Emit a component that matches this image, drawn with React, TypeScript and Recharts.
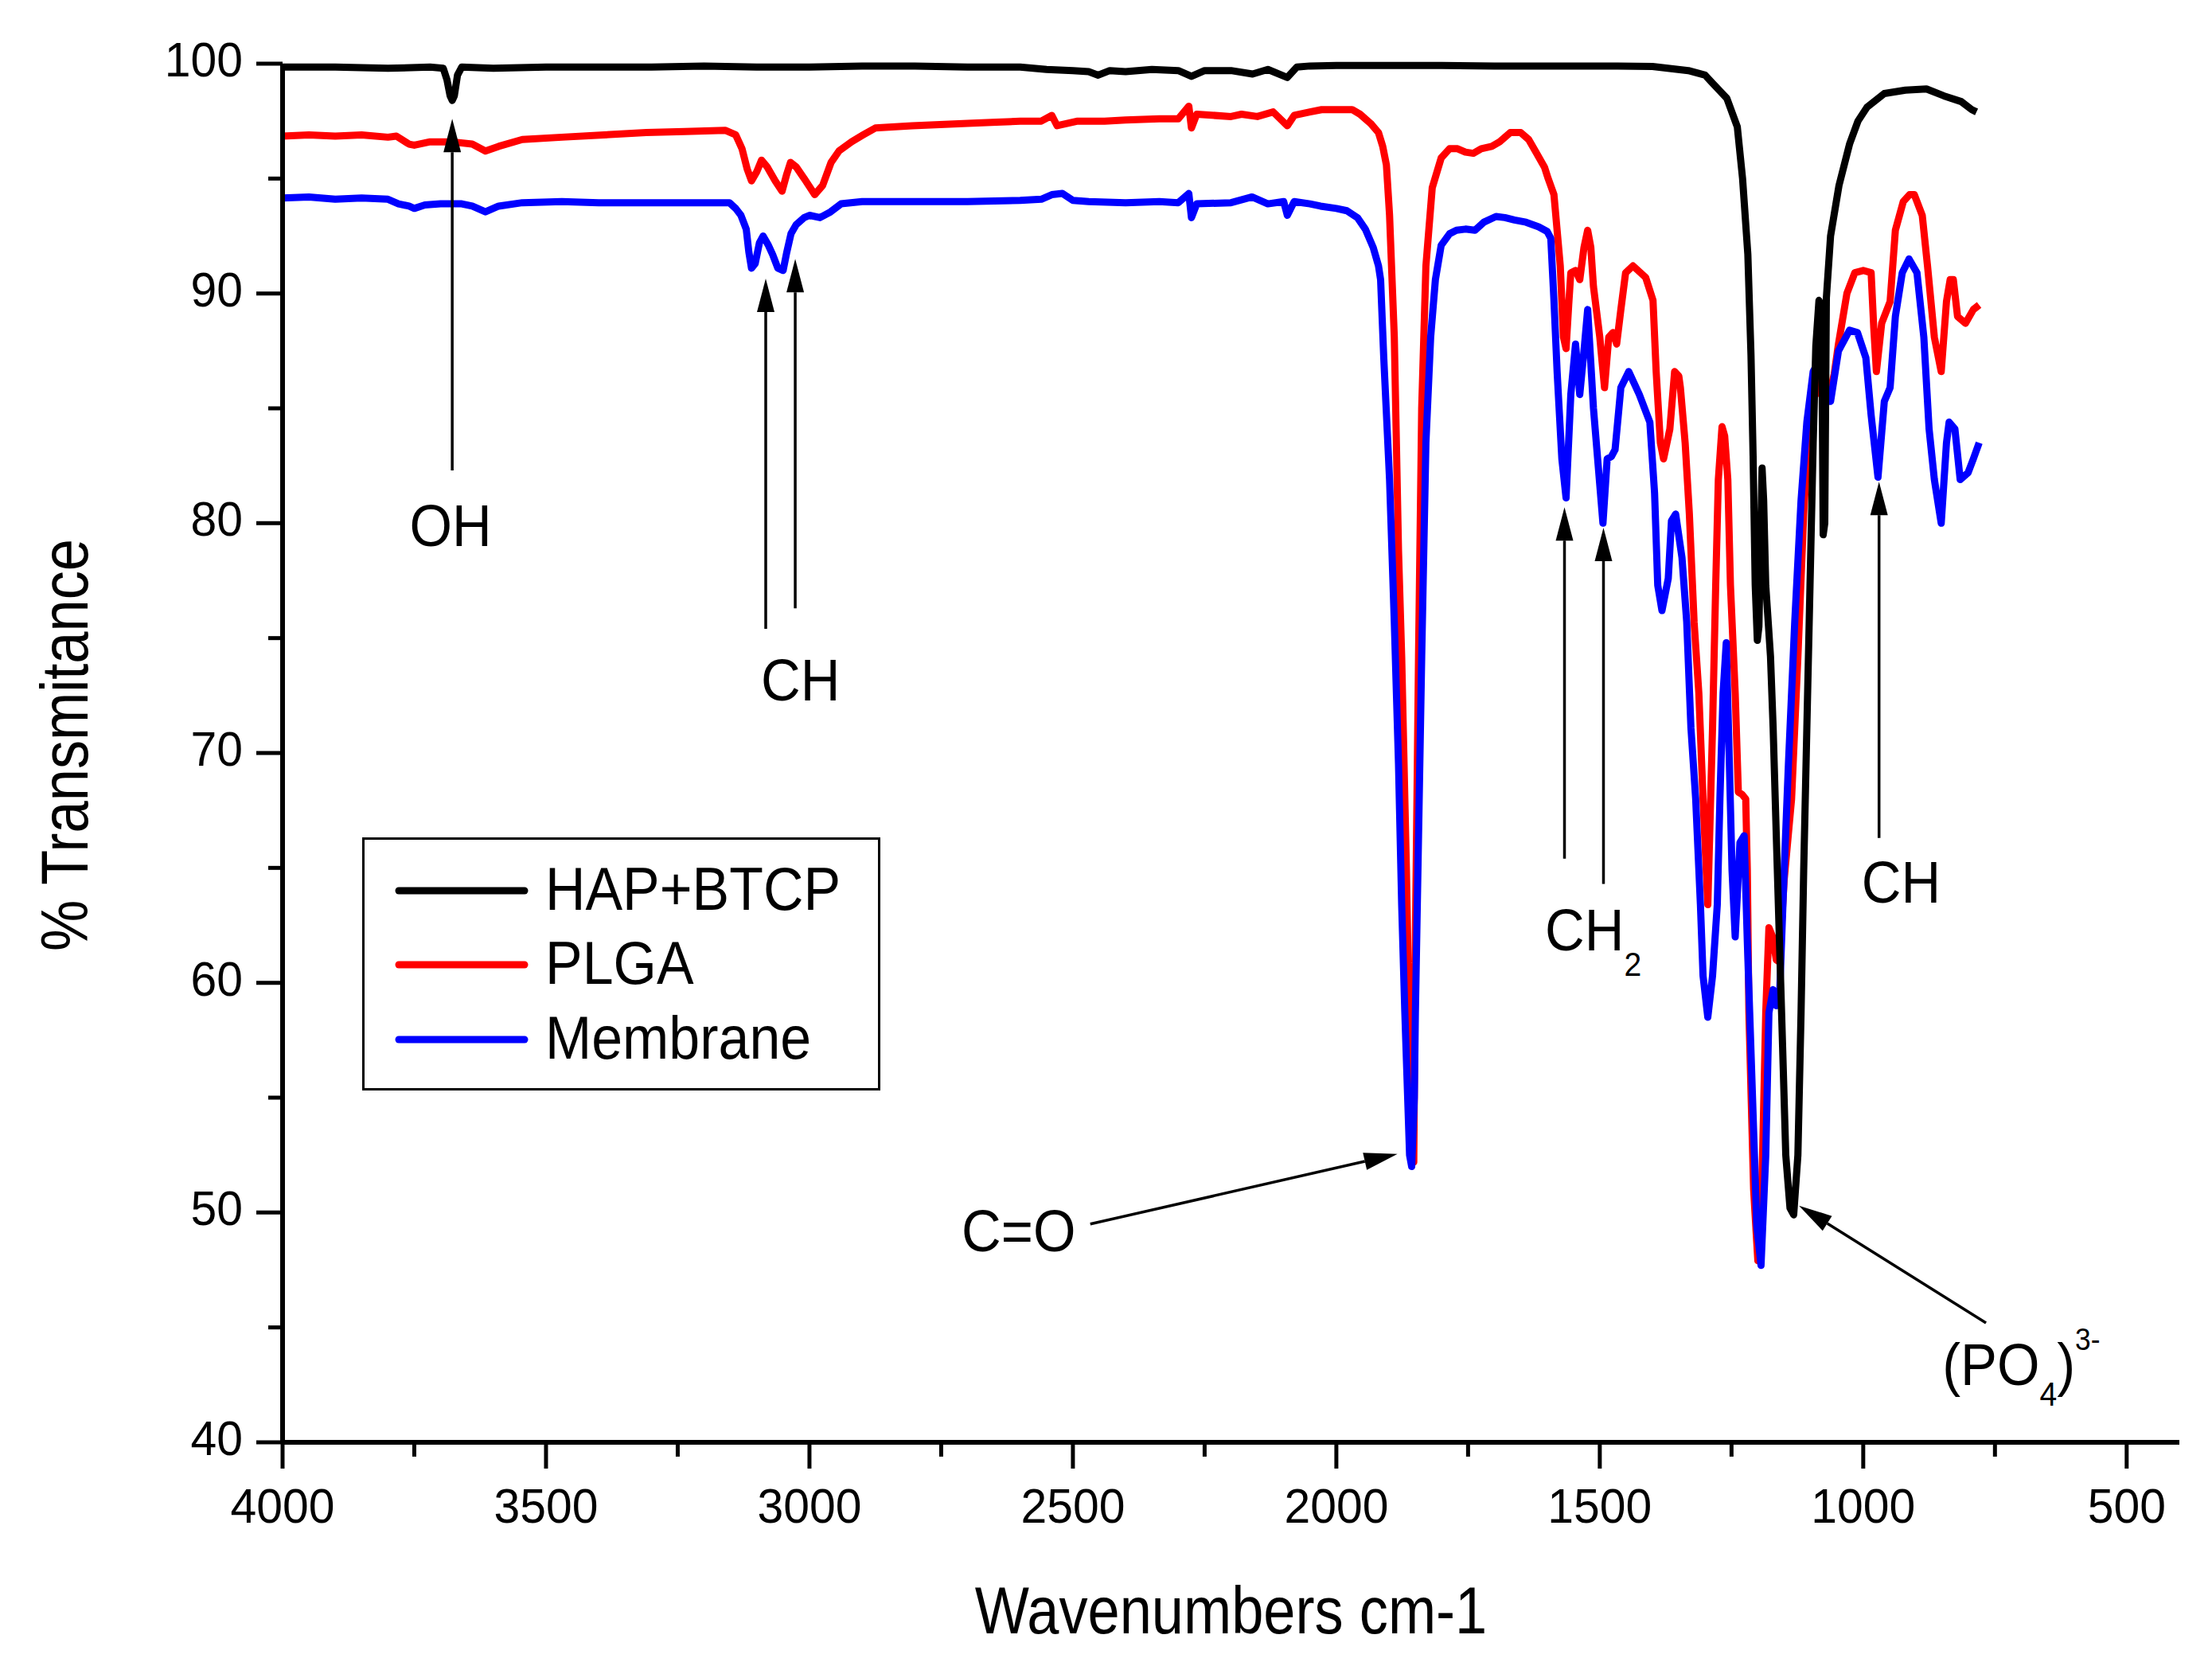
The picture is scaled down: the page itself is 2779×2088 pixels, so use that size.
import React from "react";
import { LineChart, Line, XAxis, YAxis, Legend, ReferenceLine, ReferenceDot, Label } from "recharts";

const FONT = '"Liberation Sans", Arial, Helvetica, sans-serif';

// [wavenumber cm-1, % transmittance]
const hapPoints: [number, number][] = [
  [4000, 99.85], [3900, 99.85], [3800, 99.8], [3720, 99.85], [3695, 99.8], [3688, 99.3], [3682, 98.6],
  [3678, 98.4], [3674, 98.6], [3668, 99.5], [3660, 99.85], [3600, 99.8], [3500, 99.85], [3400, 99.85],
  [3300, 99.85], [3200, 99.9], [3100, 99.85], [3000, 99.85], [2900, 99.9], [2800, 99.9], [2700, 99.85],
  [2600, 99.85], [2550, 99.75], [2500, 99.7], [2470, 99.65], [2452, 99.5], [2430, 99.7], [2400, 99.65],
  [2350, 99.75], [2300, 99.7], [2275, 99.45], [2250, 99.7], [2200, 99.7], [2159, 99.55], [2130, 99.75],
  [2093, 99.4], [2075, 99.85], [2050, 99.9], [2000, 99.92], [1900, 99.92], [1800, 99.92], [1700, 99.9],
  [1600, 99.9], [1500, 99.9], [1400, 99.88], [1332, 99.7], [1300, 99.5], [1286, 99.15], [1259, 98.5],
  [1239, 97.25], [1229, 95.0], [1219, 91.7], [1213, 87.3], [1209, 82.9], [1205, 77.3], [1201, 74.9],
  [1198, 75.5], [1192, 82.4], [1189, 81.0], [1185, 77.3], [1176, 74.2], [1171, 71.1], [1165, 66.4],
  [1159, 61.8], [1153, 57.2], [1147, 52.5], [1139, 50.2], [1132, 49.9], [1124, 52.5], [1118, 58.7],
  [1113, 64.9], [1107, 71.1], [1101, 77.3], [1095, 83.5], [1090, 87.7], [1084, 89.7], [1079, 89.4],
  [1076, 79.5], [1073, 80.0], [1070, 89.8], [1062, 92.5], [1046, 94.7], [1026, 96.5], [1010, 97.5],
  [993, 98.1], [960, 98.7], [920, 98.85], [880, 98.9], [847, 98.6], [814, 98.35], [794, 98.0], [785, 97.9],
];

const plgaPoints: [number, number][] = [
  [4000, 96.85], [3950, 96.9], [3900, 96.85], [3850, 96.9], [3800, 96.8], [3784, 96.85], [3760, 96.5],
  [3750, 96.45], [3720, 96.6], [3680, 96.6], [3640, 96.5], [3615, 96.2], [3590, 96.4], [3545, 96.7],
  [3470, 96.8], [3390, 96.9], [3310, 97.0], [3237, 97.05], [3160, 97.1], [3140, 96.9], [3128, 96.3],
  [3118, 95.4], [3110, 94.9], [3100, 95.3], [3091, 95.8], [3080, 95.5], [3065, 94.9], [3052, 94.45],
  [3043, 95.2], [3036, 95.7], [3025, 95.5], [3010, 95.0], [2990, 94.3], [2975, 94.7], [2959, 95.7],
  [2944, 96.2], [2920, 96.6], [2898, 96.9], [2875, 97.2], [2805, 97.3], [2700, 97.4], [2645, 97.45],
  [2600, 97.5], [2560, 97.5], [2540, 97.75], [2530, 97.3], [2491, 97.5], [2440, 97.5], [2400, 97.55],
  [2336, 97.6], [2300, 97.6], [2280, 98.15], [2275, 97.2], [2265, 97.8], [2200, 97.7], [2180, 97.8],
  [2150, 97.7], [2120, 97.9], [2093, 97.3], [2080, 97.75], [2050, 97.9], [2028, 98.0], [1970, 98.0],
  [1955, 97.8], [1935, 97.4], [1920, 97.0], [1912, 96.4], [1905, 95.6], [1899, 93.4], [1890, 88.1],
  [1882, 78.8], [1876, 74.2], [1867, 64.9], [1861, 57.2], [1856, 52.6], [1853, 52.2], [1850, 61.8],
  [1844, 74.2], [1838, 85.0], [1830, 91.2], [1818, 94.6], [1801, 95.9], [1785, 96.3], [1770, 96.3],
  [1755, 96.15], [1740, 96.1], [1725, 96.3], [1705, 96.4], [1690, 96.6], [1670, 97.0], [1650, 97.0],
  [1635, 96.7], [1620, 96.1], [1605, 95.5], [1598, 95.0], [1587, 94.3], [1575, 91.2], [1569, 88.1],
  [1564, 87.6], [1559, 89.5], [1555, 90.9], [1546, 91.0], [1538, 90.6], [1530, 92.0], [1523, 92.75],
  [1517, 92.0], [1512, 90.3], [1500, 88.1], [1491, 85.9], [1483, 88.1], [1475, 88.3], [1468, 87.8],
  [1460, 89.3], [1451, 90.9], [1437, 91.2], [1413, 90.7], [1399, 89.7], [1393, 86.6], [1385, 83.5],
  [1379, 82.8], [1367, 84.1], [1358, 86.6], [1350, 86.4], [1347, 85.9], [1338, 83.5], [1330, 80.4],
  [1321, 75.7], [1312, 72.6], [1304, 68.0], [1295, 63.4], [1286, 71.1], [1280, 77.3], [1275, 81.9],
  [1268, 84.2], [1263, 83.8], [1257, 81.9], [1252, 77.3], [1243, 72.6], [1237, 68.3], [1230, 68.2],
  [1223, 68.0], [1220, 64.9], [1217, 58.7], [1208, 51.0], [1200, 47.9], [1196, 48.5], [1191, 52.5],
  [1185, 58.7], [1179, 62.4], [1172, 62.0], [1165, 61.0], [1159, 60.9], [1150, 64.5], [1136, 68.0],
  [1124, 74.2], [1113, 80.4], [1101, 85.0], [1090, 86.4], [1080, 85.6], [1067, 85.3], [1055, 86.5],
  [1047, 87.8], [1031, 90.0], [1016, 90.9], [1000, 91.0], [985, 90.9], [980, 88.5], [975, 86.6],
  [965, 88.7], [949, 89.65], [939, 92.75], [924, 94.0], [912, 94.3], [903, 94.3], [888, 93.4],
  [878, 91.2], [865, 88.1], [852, 86.6], [842, 89.65], [835, 90.6], [829, 90.6], [821, 89.0],
  [806, 88.7], [791, 89.3], [780, 89.5],
];

const membranePoints: [number, number][] = [
  [4000, 94.15], [3950, 94.2], [3900, 94.1], [3850, 94.15], [3800, 94.1], [3780, 93.9], [3760, 93.8],
  [3750, 93.7], [3730, 93.85], [3700, 93.9], [3660, 93.9], [3640, 93.8], [3615, 93.55], [3590, 93.8],
  [3545, 93.95], [3470, 94.0], [3400, 93.95], [3300, 93.95], [3200, 93.95], [3152, 93.95], [3140, 93.7],
  [3130, 93.4], [3120, 92.8], [3115, 91.8], [3110, 91.1], [3103, 91.3], [3095, 92.2], [3088, 92.5],
  [3078, 92.1], [3070, 91.7], [3060, 91.1], [3050, 91.0], [3043, 91.8], [3035, 92.6], [3025, 93.0],
  [3010, 93.3], [3000, 93.4], [2980, 93.3], [2960, 93.55], [2940, 93.9], [2900, 94.0], [2800, 94.0],
  [2700, 94.0], [2600, 94.05], [2560, 94.1], [2540, 94.3], [2520, 94.35], [2500, 94.05], [2470, 94.0],
  [2400, 93.95], [2336, 94.0], [2300, 93.95], [2280, 94.35], [2275, 93.3], [2265, 93.9], [2200, 93.95],
  [2160, 94.2], [2130, 93.9], [2100, 94.0], [2093, 93.4], [2080, 94.0], [2050, 93.9], [2030, 93.8],
  [2000, 93.7], [1980, 93.6], [1960, 93.3], [1945, 92.8], [1930, 92.0], [1920, 91.2], [1916, 90.6],
  [1910, 87.2], [1899, 81.9], [1890, 75.7], [1882, 69.5], [1876, 63.4], [1870, 58.7], [1861, 52.5],
  [1857, 52.0], [1852, 55.0], [1850, 58.7], [1844, 66.4], [1838, 74.2], [1830, 83.5], [1821, 88.1],
  [1812, 90.6], [1801, 92.1], [1785, 92.6], [1772, 92.75], [1755, 92.8], [1737, 92.75], [1720, 93.1],
  [1697, 93.35], [1680, 93.3], [1662, 93.2], [1640, 93.1], [1616, 92.9], [1600, 92.7], [1593, 92.4],
  [1587, 89.7], [1581, 86.6], [1572, 82.8], [1564, 81.1], [1555, 85.6], [1546, 87.8], [1538, 85.6],
  [1530, 87.5], [1523, 89.3], [1512, 85.0], [1503, 82.5], [1494, 80.0], [1486, 82.8], [1478, 82.9],
  [1471, 83.2], [1460, 85.9], [1445, 86.6], [1425, 85.6], [1405, 84.4], [1396, 81.3], [1390, 77.3],
  [1382, 76.2], [1370, 77.6], [1364, 80.1], [1356, 80.4], [1344, 78.5], [1335, 75.7], [1327, 71.1],
  [1318, 68.0], [1309, 63.4], [1304, 60.3], [1295, 58.5], [1286, 60.3], [1277, 63.4], [1272, 68.0],
  [1266, 72.6], [1260, 74.8], [1254, 69.5], [1249, 64.9], [1243, 62.0], [1234, 66.1], [1226, 66.4],
  [1220, 61.8], [1211, 55.6], [1202, 49.4], [1194, 47.7], [1185, 52.5], [1179, 58.7], [1171, 59.7],
  [1165, 59.0], [1159, 59.3], [1150, 64.9], [1142, 69.5], [1130, 75.7], [1118, 81.0], [1107, 84.4],
  [1095, 86.6], [1088, 86.9], [1077, 86.3], [1062, 85.3], [1047, 87.5], [1026, 88.4], [1011, 88.3],
  [995, 87.2], [985, 84.7], [972, 82.0], [960, 85.3], [949, 85.9], [939, 89.0], [926, 90.9],
  [913, 91.5], [898, 90.9], [885, 88.1], [875, 84.1], [865, 81.9], [852, 80.0], [842, 83.5],
  [837, 84.4], [826, 84.1], [816, 81.9], [801, 82.2], [791, 82.8], [780, 83.5],
];

const xTicks = [4000, 3750, 3500, 3250, 3000, 2750, 2500, 2250, 2000, 1750, 1500, 1250, 1000, 750, 500];
const yTicks = [40, 45, 50, 55, 60, 65, 70, 75, 80, 85, 90, 95, 100];

const seriesNames = ["HAP+BTCP", "PLGA", "Membrane"];
const seriesColors = ["#000000", "#ff0000", "#0000ff"];

// annotation arrows, tail -> head, in data units
const arrows: [number, number, number, number][] = [
  [3678, 82.3, 3678, 97.6],
  [3083, 75.4, 3083, 90.65],
  [3027, 76.3, 3027, 91.5],
  [2467, 49.5, 1884, 52.55],
  [1567, 65.4, 1567, 80.7],
  [1493, 64.3, 1493, 79.8],
  [970, 66.3, 970, 81.8],
  [767, 45.2, 1122, 50.3],
];

const toData = (pts: [number, number][]) => pts.map(([w, t]) => ({ w, t }));
const hapData = toData(hapPoints);
const plgaData = toData(plgaPoints);
const membraneData = toData(membranePoints);

function XTick(props: any) {
  const { x, y, payload } = props;
  const major = payload.value % 500 === 0;
  return (
    <g>
      <line x1={x} y1={y} x2={x} y2={y + (major ? 33 : 18)} stroke="#000" strokeWidth={5} />
      {major && (
        <text transform={`translate(${x},${y + 101}) scale(0.95,1)`} textAnchor="middle"
          fontSize={62} fontFamily={FONT} fill="#000">{payload.value}</text>
      )}
    </g>
  );
}

function YTick(props: any) {
  const { x, y, payload } = props;
  const major = payload.value % 10 === 0;
  return (
    <g>
      <line x1={x - (major ? 33 : 18)} y1={y} x2={x} y2={y} stroke="#000" strokeWidth={5} />
      {major && (
        <text transform={`translate(${x - 50},${y + 16}) scale(0.95,1)`} textAnchor="end"
          fontSize={62} fontFamily={FONT} fill="#000">{payload.value}</text>
      )}
    </g>
  );
}

function Arrow(props: any) {
  const { x1, y1, x2, y2 } = props;
  const dx = x2 - x1, dy = y2 - y1;
  const len = Math.sqrt(dx * dx + dy * dy) || 1;
  const ux = dx / len, uy = dy / len;
  const hl = 42, hw = 11;
  const bx = x2 - ux * hl, by = y2 - uy * hl;
  return (
    <g>
      <line x1={x1} y1={y1} x2={bx} y2={by} stroke="#000" strokeWidth={3.5} />
      <polygon
        points={`${x2},${y2} ${bx - uy * hw},${by + ux * hw} ${bx + uy * hw},${by - ux * hw}`}
        fill="#000" />
    </g>
  );
}

const labelStyle = { fontFamily: FONT, fill: "#000" };

function textShape(content: React.ReactNode, anchor: "start" | "middle") {
  return (p: any) => (
    <text transform={`translate(${p.cx},${p.cy}) scale(0.93,1)`} textAnchor={anchor} fontSize={74} {...labelStyle}>
      {content}
    </text>
  );
}

function renderLegend() {
  return (
    <svg width={652} height={320} style={{ display: "block" }}>
      <rect x={1.5} y={1.5} width={648} height={315} fill="#fff" stroke="#000" strokeWidth={3} />
      {seriesNames.map((name, i) => {
        const ly = [67, 160, 254][i];
        return (
          <g key={name}>
            <line x1={46} x2={204} y1={ly} y2={ly} stroke={seriesColors[i]} strokeWidth={9} strokeLinecap="round" />
            <text transform={`translate(230,${ly + 24}) scale(0.92,1)`} fontSize={76} {...labelStyle}>{name}</text>
          </g>
        );
      })}
    </svg>
  );
}

export default function App() {
  return (
    <div style={{ position: "absolute", left: 0, top: 0, width: 2779, height: 2088, background: "#fff" }}>
      <LineChart width={2779} height={2088} margin={{ top: 80, right: 41, bottom: 0, left: 0 }}>
        <XAxis
          type="number"
          dataKey="w"
          domain={[400, 4000]}
          reversed
          ticks={xTicks}
          interval={0}
          height={276}
          tickSize={0}
          tickMargin={0}
          tickLine={false}
          axisLine={{ stroke: "#000", strokeWidth: 6 }}
          tick={(p: any) => <XTick {...p} />}
        >
          <Label
            content={(p: any) => {
              const vb = p.viewBox;
              return (
                <text transform={`translate(${vb.x + vb.width / 2},${vb.y + 240}) scale(0.86,1)`}
                  textAnchor="middle" fontSize={84} {...labelStyle}>Wavenumbers cm-1</text>
              );
            }}
          />
        </XAxis>
        <YAxis
          type="number"
          domain={[40, 100]}
          ticks={yTicks}
          interval={0}
          width={355}
          tickSize={0}
          tickMargin={0}
          tickLine={false}
          axisLine={{ stroke: "#000", strokeWidth: 6 }}
          tick={(p: any) => <YTick {...p} />}
        >
          <Label
            content={(p: any) => {
              const vb = p.viewBox;
              return (
                <text transform={`translate(110,${vb.y + vb.height / 2 - 10}) rotate(-90) scale(0.86,1)`}
                  textAnchor="middle" fontSize={84} {...labelStyle}>% Transmitance</text>
              );
            }}
          />
        </YAxis>
        <Legend
          layout="vertical"
          align="center"
          verticalAlign="middle"
          width={652}
          height={320}
          wrapperStyle={{ left: 455, top: 1052, width: 652, height: 320 }}
          content={renderLegend}
        />
        <Line data={plgaData} dataKey="t" name="PLGA" type="linear" stroke="#ff0000" strokeWidth={9}
          dot={false} isAnimationActive={false} strokeLinejoin="round" />
        <Line data={membraneData} dataKey="t" name="Membrane" type="linear" stroke="#0000ff" strokeWidth={9}
          dot={false} isAnimationActive={false} strokeLinejoin="round" />
        <Line data={hapData} dataKey="t" name="HAP+BTCP" type="linear" stroke="#000000" strokeWidth={9}
          dot={false} isAnimationActive={false} strokeLinejoin="round" />
        {arrows.map((a, i) => (
          <ReferenceLine key={`arrow-${i}`} segment={[{ x: a[0], y: a[1] }, { x: a[2], y: a[3] }]}
            shape={(p: any) => <Arrow {...p} />} />
        ))}
        <ReferenceDot x={3681} y={79.0} r={1} shape={textShape("OH", "middle")} />
        <ReferenceDot x={3017} y={72.3} r={1} shape={textShape("CH", "middle")} />
        <ReferenceDot x={2603} y={48.3} r={1} shape={textShape("C=O", "middle")} />
        <ReferenceDot x={1604} y={61.4} r={1}
          shape={textShape(<>CH<tspan dy={32} fontSize={42}>2</tspan></>, "start")} />
        <ReferenceDot x={1003} y={63.5} r={1} shape={textShape("CH", "start")} />
        <ReferenceDot x={850} y={42.5} r={1}
          shape={textShape(
            <>(PO<tspan dy={26} fontSize={42}>4</tspan><tspan dy={-26}>)</tspan><tspan dy={-44} fontSize={38}>3-</tspan></>,
            "start"
          )} />
      </LineChart>
    </div>
  );
}
